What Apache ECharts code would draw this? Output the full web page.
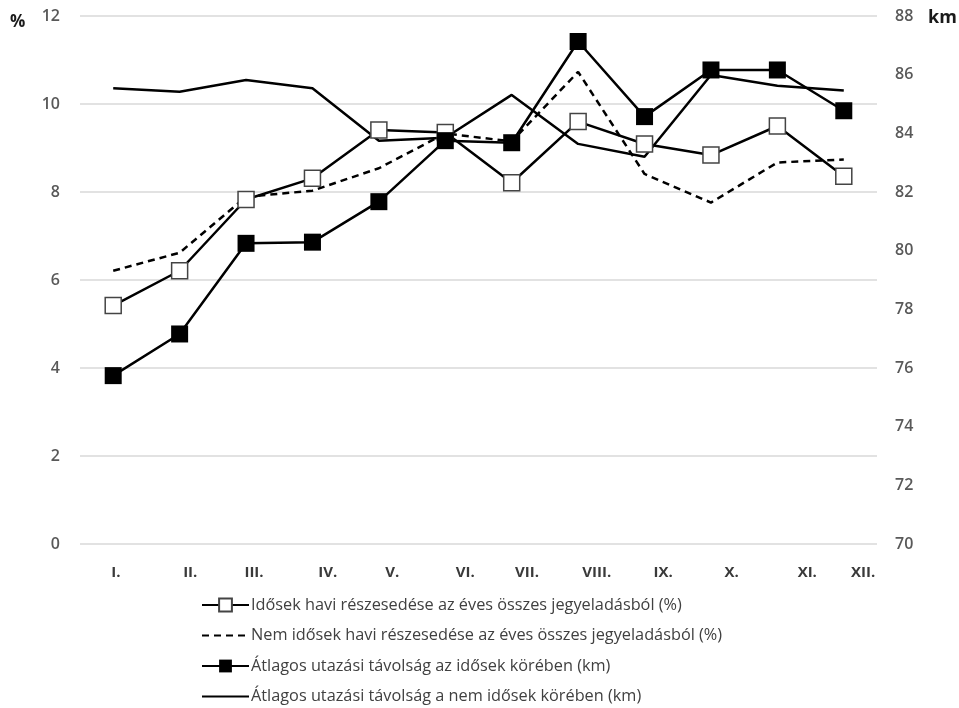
<!DOCTYPE html>
<html>
<head>
<meta charset="utf-8">
<script src="https://cdn.jsdelivr.net/npm/echarts@6/dist/echarts.min.js"></script>
<style>
  html, body { margin: 0; padding: 0; background: #ffffff; }
  #chart { width: 959px; height: 708px; }
</style>
</head>
<body>
<div id="chart"></div>
<script>
// ---- Data ----
var months = ['I.', 'II.', 'III.', 'IV.', 'V.', 'VI.', 'VII.', 'VIII.', 'IX.', 'X.', 'XI.', 'XII.'];
var seriesNames = [
  'Idősek havi részesedése az éves összes jegyeladásból (%)',
  'Nem idősek havi részesedése az éves összes jegyeladásból (%)',
  'Átlagos utazási távolság az idősek körében (km)',
  'Átlagos utazási távolság a nem idősek körében (km)'
];
var elderlyShare    = [5.42, 6.21, 7.83, 8.31, 9.41, 9.35, 8.21, 9.60, 9.09, 8.84, 9.50, 8.36];
var nonElderlyShare = [6.21, 6.62, 7.89, 8.03, 8.54, 9.33, 9.15, 10.73, 8.41, 7.76, 8.67, 8.74];
var elderlyKm       = [75.74, 77.16, 80.25, 80.29, 81.67, 83.75, 83.68, 87.13, 84.57, 86.16, 86.16, 84.77];
var nonElderlyKm    = [85.54, 85.42, 85.82, 85.54, 83.75, 83.85, 85.31, 83.64, 83.20, 85.99, 85.62, 85.46];
var leftTicks  = { min: 0, max: 12, step: 2 };
var rightTicks = { min: 70, max: 88, step: 2 };

// ---- Layout (placement of the original month captions, in category-index units) ----
var monthLabelSlots = [0.04, 1.16, 2.12, 3.23, 4.20, 5.30, 6.23, 7.28, 8.28, 9.31, 10.45, 11.29];

var chart = echarts.init(document.getElementById('chart'), null, { renderer: 'canvas' });

var axisLabelFont = { fontFamily: 'Open Sans', fontSize: 16, fontWeight: 600, color: '#595959' };
var hidden = 'rgba(0,0,0,0)';

var option = {
  backgroundColor: '#ffffff',
  animation: false,
  grid: { left: 80, right: 82, top: 16, bottom: 164, containLabel: false },
  legend: {
    orient: 'vertical',
    left: 201,
    top: 597,
    padding: 0,
    height: 200,
    itemWidth: 47,
    itemHeight: 16,
    itemGap: 14.5,
    data: seriesNames,
    textStyle: { fontFamily: 'Open Sans', fontSize: 16.3, lineHeight: 16, color: '#404040', padding: [0, 0, 0, -3] }
  },
  xAxis: [
    {
      type: 'category',
      data: months,
      boundaryGap: true,
      show: false
    },
    {
      type: 'value',
      min: -0.5,
      max: 11.5,
      position: 'bottom',
      axisLine: { show: false },
      axisTick: { show: false },
      splitLine: { show: false },
      axisLabel: {
        customValues: monthLabelSlots,
        margin: 21,
        fontFamily: 'Open Sans',
        fontSize: 15,
        fontWeight: 700,
        color: '#3a3a3a',
        formatter: function (v) {
          var best = 0, d = Infinity;
          for (var i = 0; i < monthLabelSlots.length; i++) {
            var dd = Math.abs(monthLabelSlots[i] - v);
            if (dd < d) { d = dd; best = i; }
          }
          return months[best];
        }
      }
    }
  ],
  yAxis: [
    {
      type: 'value',
      min: leftTicks.min,
      max: leftTicks.max,
      interval: leftTicks.step,
      position: 'left',
      axisLine: { show: false },
      axisTick: { show: false },
      splitLine: { show: true, lineStyle: { color: '#d9d9d9', width: 1.5 } },
      axisLabel: Object.assign({ margin: 20 }, axisLabelFont)
    },
    {
      type: 'value',
      min: rightTicks.min,
      max: rightTicks.max,
      interval: rightTicks.step,
      position: 'right',
      axisLine: { show: false },
      axisTick: { show: false },
      splitLine: { show: false },
      axisLabel: Object.assign({ margin: 18 }, axisLabelFont)
    }
  ],
  graphic: [
    { type: 'text', left: 10, top: 14, style: { text: '%', font: 'bold 17px "Open Sans"', fill: '#1a1a1a' } },
    { type: 'text', left: 928, top: 9, style: { text: 'km', font: 'bold 18px "Open Sans"', fill: '#1a1a1a' } }
  ],
  series: [
    {
      name: seriesNames[0],
      type: 'line',
      xAxisIndex: 0,
      yAxisIndex: 0,
      data: elderlyShare,
      z: 4,
      symbol: 'rect',
      symbolSize: 16,
      showAllSymbol: true,
      lineStyle: { color: '#000000', width: 2.5 },
      itemStyle: { color: '#ffffff', borderColor: '#444444', borderWidth: 1.5 }
    },
    {
      name: seriesNames[1],
      type: 'line',
      xAxisIndex: 0,
      yAxisIndex: 0,
      data: nonElderlyShare,
      z: 2,
      symbol: 'rect',
      showSymbol: false,
      lineStyle: { color: '#000000', width: 2.5, type: [7, 5] },
      itemStyle: { color: hidden, borderColor: hidden, borderWidth: 0 }
    },
    {
      name: seriesNames[2],
      type: 'line',
      xAxisIndex: 0,
      yAxisIndex: 1,
      data: elderlyKm,
      z: 5,
      symbol: 'rect',
      symbolSize: 17,
      showAllSymbol: true,
      lineStyle: { color: '#000000', width: 2.5 },
      itemStyle: { color: '#000000', borderColor: '#000000', borderWidth: 0 }
    },
    {
      name: seriesNames[3],
      type: 'line',
      xAxisIndex: 0,
      yAxisIndex: 1,
      data: nonElderlyKm,
      z: 2,
      symbol: 'rect',
      showSymbol: false,
      lineStyle: { color: '#000000', width: 2.5 },
      itemStyle: { color: hidden, borderColor: hidden, borderWidth: 0 }
    }
  ]
};

chart.setOption(option);
</script>
</body>
</html>
